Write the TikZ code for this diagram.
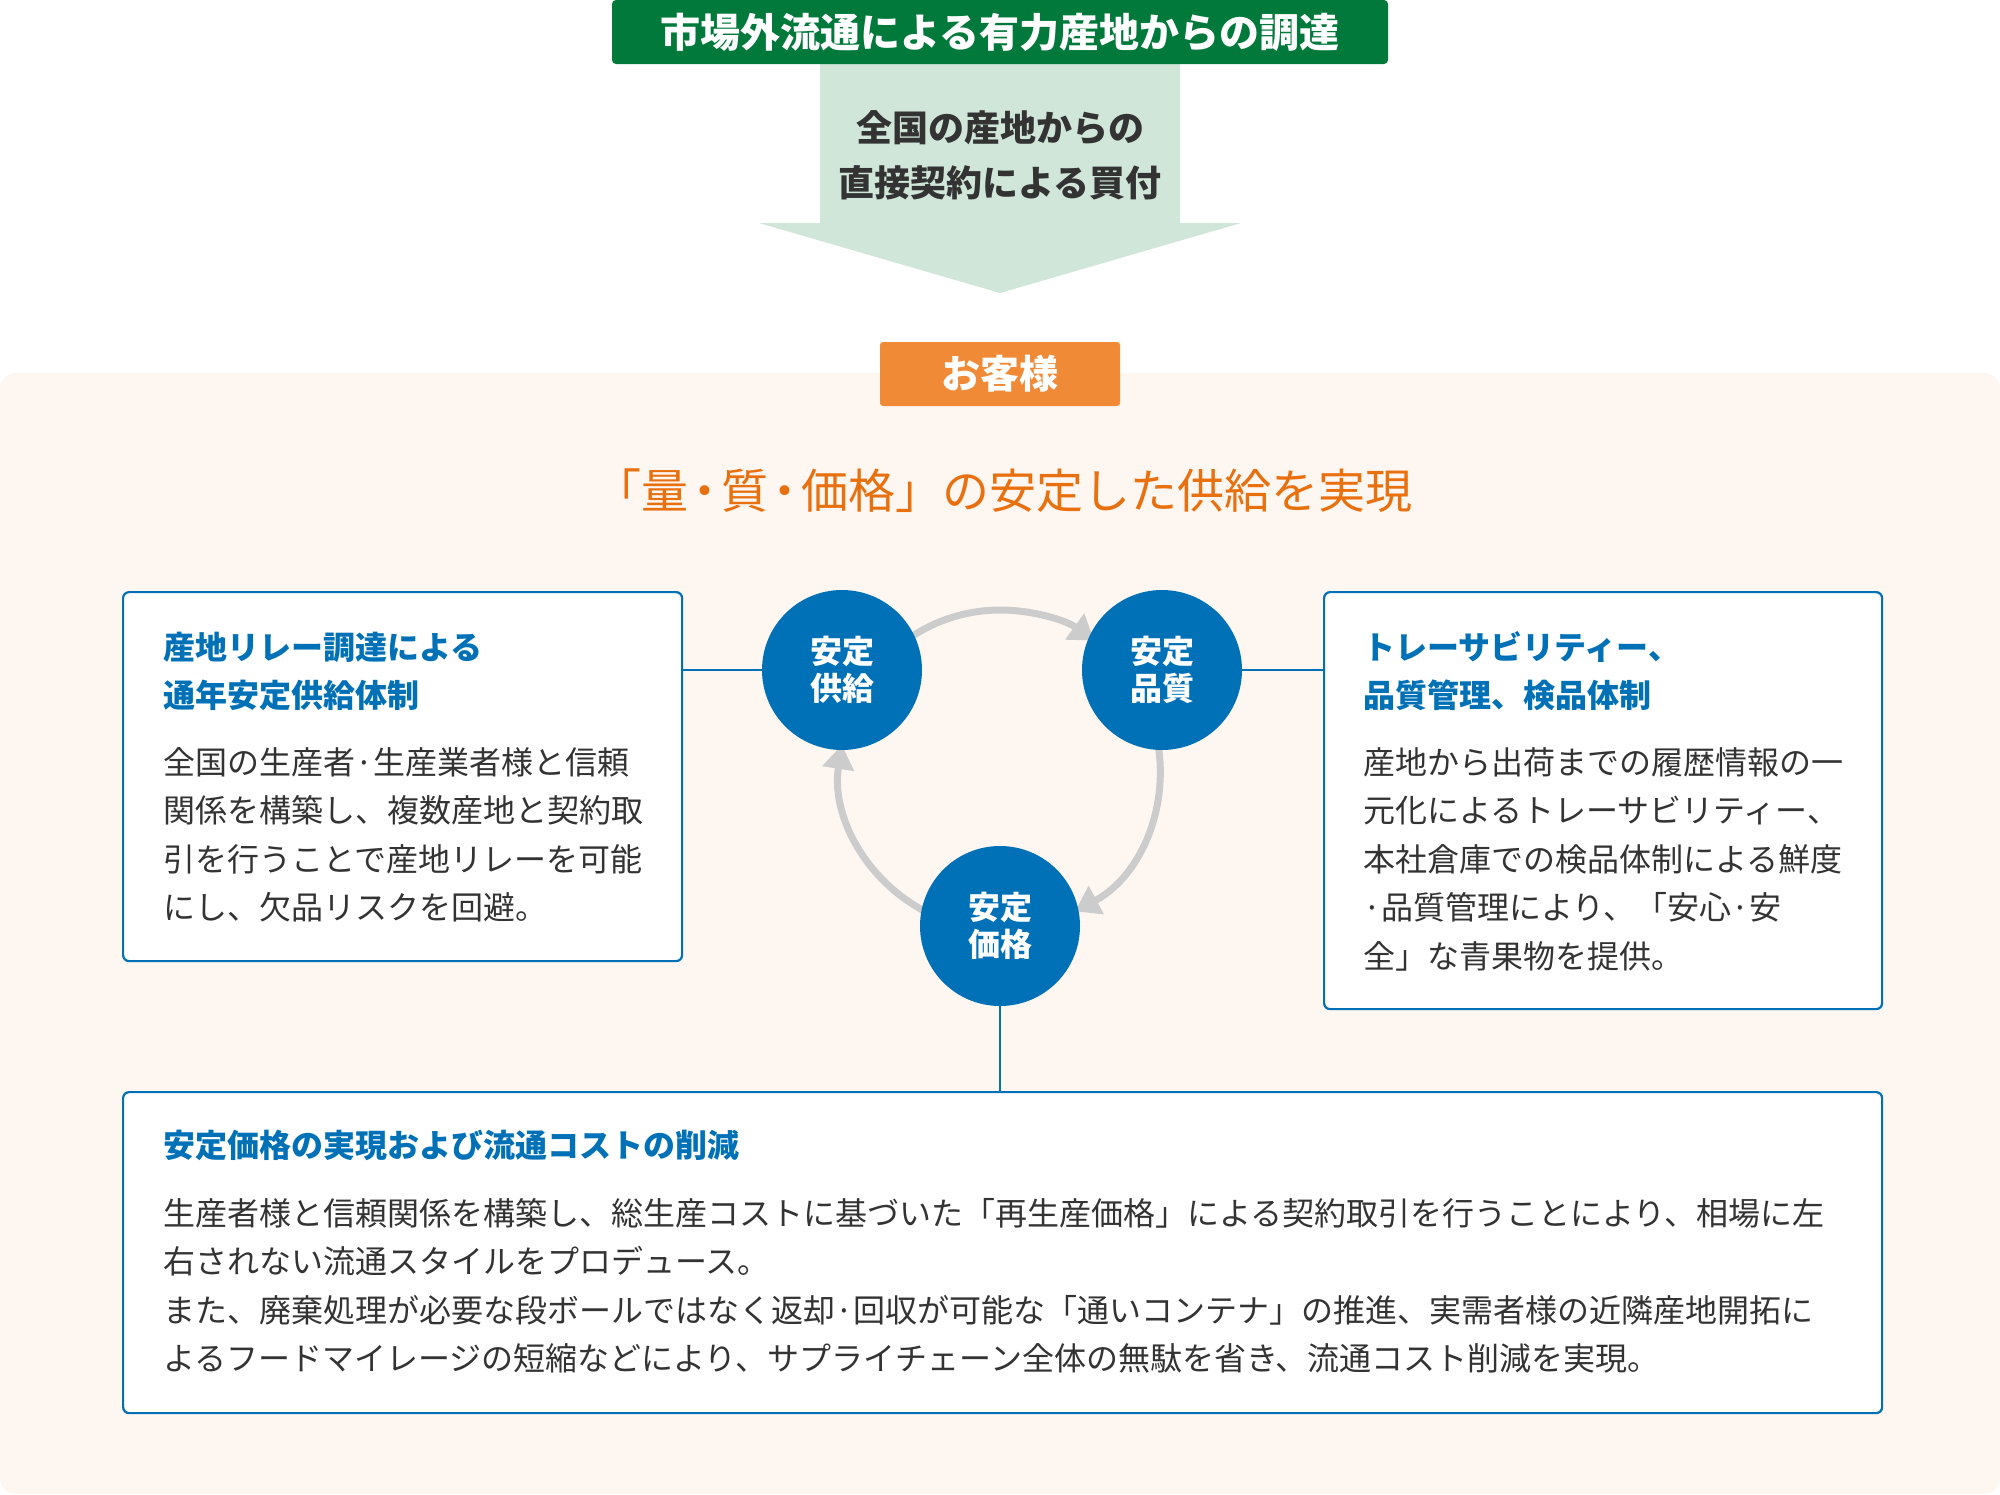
\documentclass[tikz,border=0pt]{standalone}
\usepackage{fontspec}
\setmainfont{Noto Sans CJK JP}
\usetikzlibrary{arrows.meta}
\definecolor{bannergreen}{HTML}{00793A}
\definecolor{arrowgreen}{HTML}{CFE6D9}
\definecolor{peach}{HTML}{FEF6F1}
\definecolor{custorange}{HTML}{F08A36}
\definecolor{headorange}{HTML}{E8700F}
\definecolor{mainblue}{HTML}{0071B7}
\definecolor{cyclegray}{HTML}{CCCCCC}
\definecolor{textgray}{HTML}{333333}
\newcommand{\middot}{\makebox[33pt]{・}}

\begin{document}
\begin{tikzpicture}[x=1pt,y=-1pt,
  panel/.style={draw=mainblue,line width=2.2pt,fill=white,rounded corners=6pt,
    anchor=north west,inner sep=0pt},
  circ/.style={circle,fill=mainblue,minimum size=160pt,inner sep=0pt,text=white,
    align=center,font=\fontsize{32}{37}\selectfont\bfseries},
  link/.style={mainblue,line width=2pt},
  cyc/.style={cyclegray,line width=7pt,-{Triangle[length=24pt,width=31pt]}},
  ptitle/.style={anchor=base west,inner sep=0pt,text width=#1,align=left,
    text=mainblue,font=\fontsize{32}{48}\selectfont\bfseries},
  pbody/.style={anchor=base west,inner sep=0pt,text width=#1,align=left,
    text=textgray,font=\fontsize{32}{48.6}\selectfont}]
\useasboundingbox (0,0) rectangle (2000,1494);
\fill[peach,rounded corners=16pt] (0,373) rectangle (2000,1494);
\fill[arrowgreen] (820,64) -- (1180,64) -- (1180,223) -- (1241,223) -- (1000,293)
  -- (759,223) -- (820,223) -- cycle;
\node[fill=bannergreen,minimum width=776pt,minimum height=64pt,rounded corners=4pt,
  text=white,font=\fontsize{40}{48}\selectfont\bfseries] (source) at (1000,32)
  {市場外流通による有力産地からの調達};
\node[align=center,text=textgray,font=\fontsize{36}{55}\selectfont\bfseries] (buy)
  at (1000,155) {全国の産地からの\\直接契約による買付};
\node[fill=custorange,minimum width=240pt,minimum height=64pt,rounded corners=3pt,
  text=white,font=\fontsize{39}{46}\selectfont\bfseries] (customer) at (1000,374) {お客様};
\node[text=headorange,inner sep=0pt,font=\fontsize{47}{56}\selectfont] (headline) at (1003,491)
  {「量\middot 質\middot 価格」の安定した供給を実現};

\coordinate (hub) at (1000,770);
\draw[cyc] ([shift={(-150:160)}]hub) arc[start angle=-150,end angle=-54,radius=160];
\draw[cyc] ([shift={(-20:160)}]hub) arc[start angle=-20,end angle=62,radius=160];
\draw[cyc] ([shift={(110:160)}]hub) arc[start angle=110,end angle=189,radius=160];

\node[panel,minimum width=559pt,minimum height=369pt] (lbox) at (122,591) {};
\node[panel,minimum width=558pt,minimum height=417pt] (rbox) at (1323,591) {};
\node[panel,minimum width=1759pt,minimum height=321pt] (bbox) at (122,1091) {};

\node[circ] (supply) at (842,670) {安定\\供給};
\node[circ] (quality) at (1162,670) {安定\\品質};
\node[circ] (price) at (1000,926) {安定\\価格};

\draw[link] (lbox.east |- supply) -- (supply);
\draw[link] (quality) -- (rbox.west |- quality);
\draw[link] (price) -- (bbox.north -| price);

\node[ptitle=500pt] (ltitle) at (163,659) {産地リレー調達による\\通年安定供給体制};
\node[pbody=500pt] (lbody) at (163,774)
  {全国の生産者·生産業者様と信頼\\関係を構築し、複数産地と契約取\\引を行うことで産地リレーを可能\\にし、欠品リスクを回避。};
\node[ptitle=500pt] (rtitle) at (1363,659) {トレーサビリティー、\\品質管理、検品体制};
\node[pbody=500pt] (rbody) at (1363,774)
  {産地から出荷までの履歴情報の一\\元化によるトレーサビリティー、\\本社倉庫での検品体制による鮮度\\·品質管理により、「安心·安\\全」な青果物を提供。};
\node[ptitle=1700pt] (btitle) at (163,1157) {安定価格の実現および流通コストの削減};
\node[pbody=1700pt] (bbody) at (163,1225)
  {生産者様と信頼関係を構築し、総生産コストに基づいた「再生産価格」による契約取引を行うことにより、相場に左\\右されない流通スタイルをプロデュース。\\また、廃棄処理が必要な段ボールではなく返却·回収が可能な「通いコンテナ」の推進、実需者様の近隣産地開拓に\\よるフードマイレージの短縮などにより、サプライチェーン全体の無駄を省き、流通コスト削減を実現。};
\end{tikzpicture}
\end{document}
